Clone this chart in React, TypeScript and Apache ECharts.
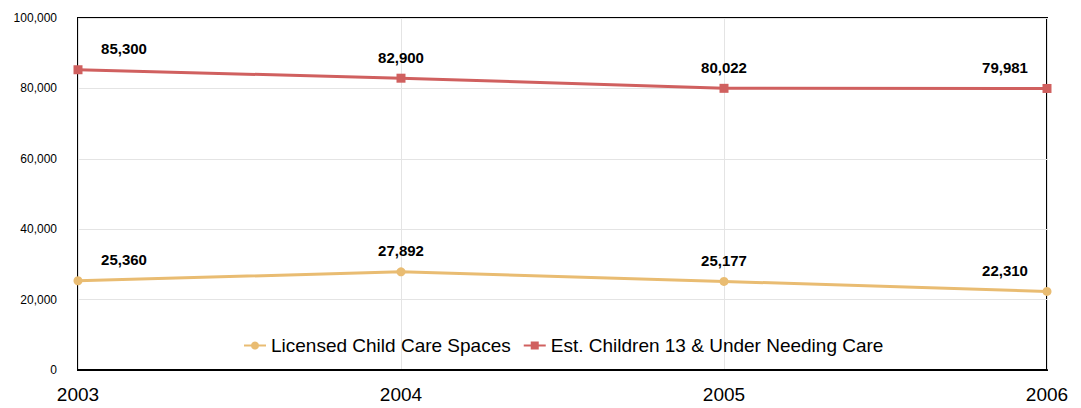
import React, { useEffect, useRef } from "react";
import * as echarts from "echarts";

const years = ["2003", "2004", "2005", "2006"];
const licensedSpaces = [25360, 27892, 25177, 22310];
const childrenNeedingCare = [85300, 82900, 80022, 79981];
const seriesNames = ["Licensed Child Care Spaces", "Est. Children 13 & Under Needing Care"];

const fmt = (v: number) => String(v).replace(/\B(?=(\d{3})+(?!\d))/g, ",");

const labelOffsets = [[46, 0], [0, 0], [0, 0], [-42, 0]];

function withLabels(values: number[]) {
  return values.map((v, i) => ({
    value: v,
    label: { offset: labelOffsets[i] },
  }));
}

const FONT = "'Liberation Sans', Arial, sans-serif";

export default function App() {
  const ref = useRef<HTMLDivElement>(null);
  useEffect(() => {
    if (!ref.current) return;
    const chart = echarts.init(ref.current, undefined, { renderer: "svg" });
    const labelStyle = {
      show: true,
      position: "top",
      distance: 9,
      fontSize: 15,
      fontWeight: "bold",
      color: "#000",
      fontFamily: FONT,
      formatter: (p: any) => fmt(p.value),
    };
    chart.setOption({
      animation: false,
      textStyle: { fontFamily: FONT },
      grid: {
        left: 78,
        right: 34,
        top: 18,
        bottom: 38,
        show: true,
        borderColor: "#000",
        borderWidth: 2,
        backgroundColor: "#fff",
      },
      legend: {
        bottom: 48,
        left: 238,
        itemWidth: 22,
        itemHeight: 10,
        itemGap: 12,
        textStyle: { fontSize: 19, color: "#000", fontFamily: FONT },
        data: seriesNames,
      },
      xAxis: {
        type: "category",
        data: years,
        boundaryGap: false,
        axisLine: { show: true, lineStyle: { color: "#000", width: 2 } },
        axisTick: { show: false },
        axisLabel: { fontSize: 19, color: "#000", margin: 15, fontFamily: FONT },
        splitLine: { show: true, lineStyle: { color: "#e4e4e4", width: 1 } },
      },
      yAxis: {
        type: "value",
        min: 0,
        max: 100000,
        interval: 20000,
        axisLine: { show: false },
        axisTick: { show: false },
        axisLabel: { fontSize: 12, color: "#000", margin: 21, fontFamily: FONT, formatter: (v: number) => fmt(v) },
        splitLine: { show: true, lineStyle: { color: "#e4e4e4", width: 1 } },
      },
      series: [
        {
          name: seriesNames[0],
          type: "line",
          data: withLabels(licensedSpaces),
          color: "#e9bc72",
          symbol: "circle",
          symbolSize: 9,
          lineStyle: { width: 3, color: "#e9bc72" },
          itemStyle: { color: "#e9bc72" },
          label: labelStyle,
        },
        {
          name: seriesNames[1],
          type: "line",
          data: withLabels(childrenNeedingCare),
          color: "#d0605f",
          symbol: "rect",
          symbolSize: 9,
          lineStyle: { width: 3, color: "#d0605f" },
          itemStyle: { color: "#d0605f" },
          label: labelStyle,
        },
      ],
    });
    return () => chart.dispose();
  }, []);
  return <div ref={ref} style={{ width: 1081, height: 408, position: "absolute", left: 0, top: 0 }} />;
}
